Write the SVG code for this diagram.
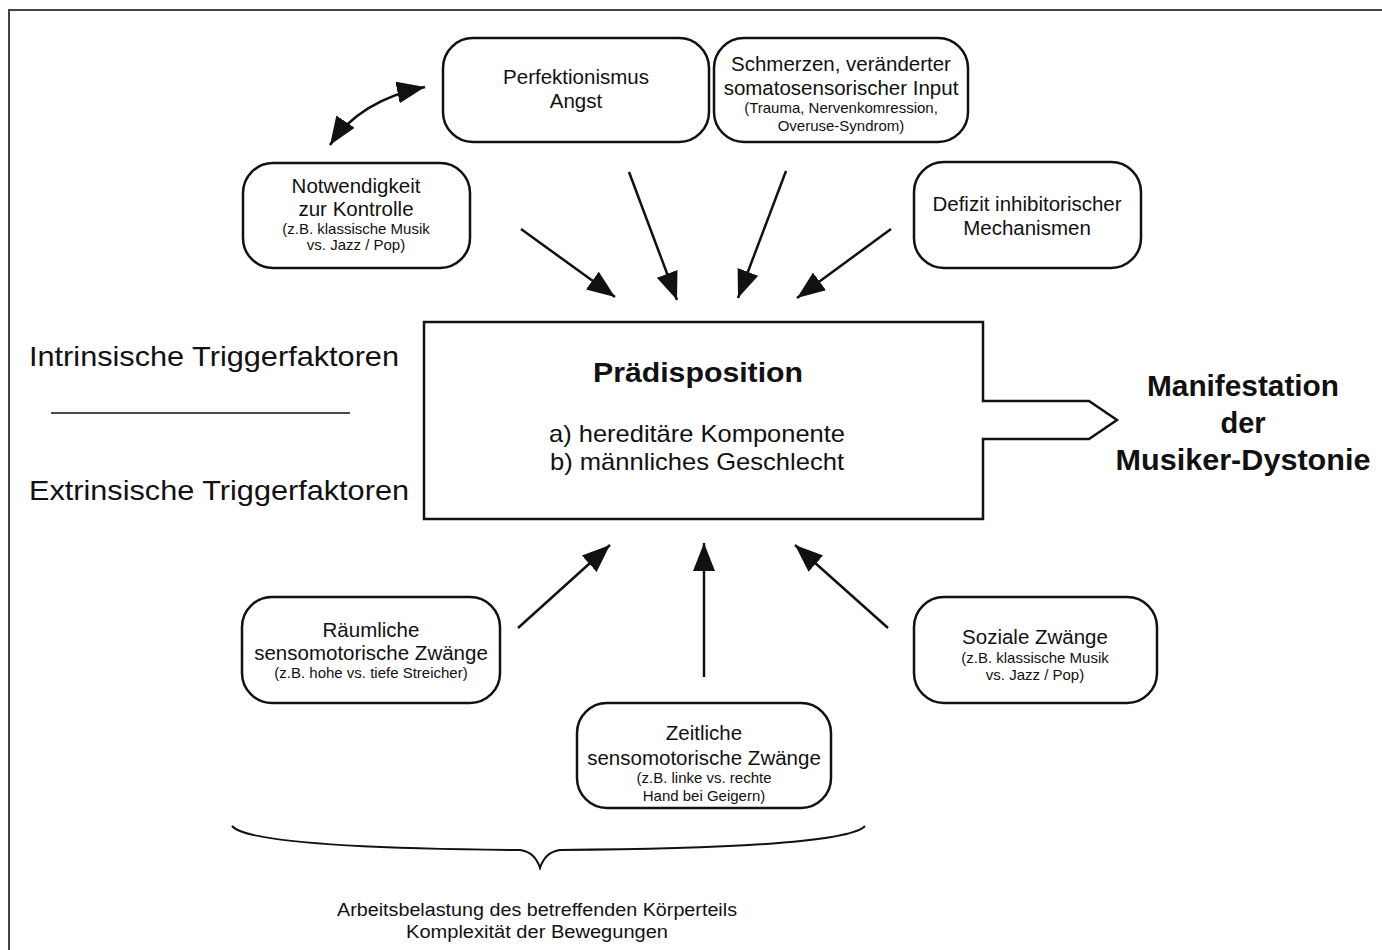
<svg xmlns="http://www.w3.org/2000/svg" width="1382" height="950" viewBox="0 0 1382 950">
<style>
.box{fill:#fff;stroke:#111;stroke-width:2.5}
.t{font-family:"Liberation Sans",Arial,sans-serif;fill:#111;text-anchor:middle}
.l{font-family:"Liberation Sans",Arial,sans-serif;fill:#111;font-size:28px}
.m{font-size:20.5px}
.s{font-size:15px}
.c{stroke:#111;stroke-width:2.5;fill:none}
</style>
<defs>
<marker id="ah" markerUnits="userSpaceOnUse" markerWidth="30" markerHeight="24" refX="28" refY="11" orient="auto-start-reverse">
<path d="M0,0 L28,11 L0,22 z" fill="#111"/>
</marker>
</defs>
<rect width="1382" height="950" fill="#fff"/>
<path d="M9,950 L9,10 L1382,10" fill="none" stroke="#444" stroke-width="2"/>

<g id="perfektionismus">
<rect class="box" x="443" y="38" width="266" height="104" rx="30"/>
<text class="t m" x="576" y="84">Perfektionismus</text>
<text class="t m" x="576" y="108">Angst</text>
</g>
<g id="schmerzen">
<rect class="box" x="714" y="38" width="254" height="104" rx="30"/>
<text class="t m" x="841" y="71">Schmerzen, veränderter</text>
<text class="t m" x="841" y="95">somatosensorischer Input</text>
<text class="t s" x="841" y="113">(Trauma, Nervenkomression,</text>
<text class="t s" x="841" y="131">Overuse-Syndrom)</text>
</g>
<g id="notwendigkeit">
<rect class="box" x="243" y="163" width="227" height="105" rx="30"/>
<text class="t m" x="356" y="193">Notwendigkeit</text>
<text class="t m" x="356" y="216">zur Kontrolle</text>
<text class="t s" x="356" y="234">(z.B. klassische Musik</text>
<text class="t s" x="356" y="250">vs. Jazz / Pop)</text>
</g>
<g id="defizit">
<rect class="box" x="914" y="162" width="227" height="106" rx="30"/>
<text class="t m" x="1027" y="211">Defizit inhibitorischer</text>
<text class="t m" x="1027" y="235">Mechanismen</text>
</g>
<g id="praedisposition">
<path class="box" d="M424,322 L983,322 L983,401 L1089,401 L1117,420 L1089,439 L983,439 L983,519 L424,519 Z"/>
<text class="t" x="698" y="382" font-size="28" font-weight="bold" textLength="210" lengthAdjust="spacingAndGlyphs">Prädisposition</text>
<text class="t" x="697" y="442" font-size="24" textLength="296" lengthAdjust="spacingAndGlyphs">a) hereditäre Komponente</text>
<text class="t" x="697" y="470" font-size="24" textLength="294" lengthAdjust="spacingAndGlyphs">b) männliches Geschlecht</text>
</g>
<g id="manifestation">
<text class="t" x="1243" y="396" font-size="29" font-weight="bold" textLength="192" lengthAdjust="spacingAndGlyphs">Manifestation</text>
<text class="t" x="1243" y="433" font-size="29" font-weight="bold">der</text>
<text class="t" x="1243" y="470" font-size="29" font-weight="bold" textLength="255" lengthAdjust="spacingAndGlyphs">Musiker-Dystonie</text>
</g>
<g id="legend">
<text class="l" x="29" y="366" textLength="370" lengthAdjust="spacingAndGlyphs">Intrinsische Triggerfaktoren</text>
<line x1="51" y1="413" x2="350" y2="413" stroke="#111" stroke-width="1.5"/>
<text class="l" x="29" y="500" textLength="380" lengthAdjust="spacingAndGlyphs">Extrinsische Triggerfaktoren</text>
</g>
<g id="raeumliche">
<rect class="box" x="242" y="597" width="258" height="106" rx="30"/>
<text class="t m" x="371" y="637">Räumliche</text>
<text class="t m" x="371" y="660">sensomotorische Zwänge</text>
<text class="t s" x="371" y="678">(z.B. hohe vs. tiefe Streicher)</text>
</g>
<g id="zeitliche">
<rect class="box" x="577" y="703" width="254" height="105" rx="30"/>
<text class="t m" x="704" y="740">Zeitliche</text>
<text class="t m" x="704" y="765">sensomotorische Zwänge</text>
<text class="t s" x="704" y="783">(z.B. linke vs. rechte</text>
<text class="t s" x="704" y="801">Hand bei Geigern)</text>
</g>
<g id="soziale">
<rect class="box" x="914" y="597" width="243" height="106" rx="30"/>
<text class="t m" x="1035" y="644">Soziale Zwänge</text>
<text class="t s" x="1035" y="663">(z.B. klassische Musik</text>
<text class="t s" x="1035" y="680">vs. Jazz / Pop)</text>
</g>
<g id="workload">
<path d="M232,826 Q250,848 520,850 Q535,852 540,868 Q545,852 560,850 Q845,848 865,826" fill="none" stroke="#111" stroke-width="2"/>
<text class="t" x="537" y="916" font-size="18" textLength="400" lengthAdjust="spacingAndGlyphs">Arbeitsbelastung des betreffenden Körperteils</text>
<text class="t" x="537" y="938" font-size="18" textLength="262" lengthAdjust="spacingAndGlyphs">Komplexität der Bewegungen</text>
</g>
<g id="connectors">
<path class="c" d="M330,145 Q360,100 425,87" marker-start="url(#ah)" marker-end="url(#ah)"/>
<line class="c" x1="521" y1="229" x2="615" y2="297" marker-end="url(#ah)"/>
<line class="c" x1="629" y1="172" x2="677" y2="300" marker-end="url(#ah)"/>
<line class="c" x1="786" y1="171" x2="738" y2="298" marker-end="url(#ah)"/>
<line class="c" x1="891" y1="229" x2="797" y2="298" marker-end="url(#ah)"/>
<line class="c" x1="518" y1="628" x2="610" y2="545" marker-end="url(#ah)"/>
<line class="c" x1="704" y1="677" x2="704" y2="543" marker-end="url(#ah)"/>
<line class="c" x1="888" y1="628" x2="795" y2="545" marker-end="url(#ah)"/>
</g>
</svg>
